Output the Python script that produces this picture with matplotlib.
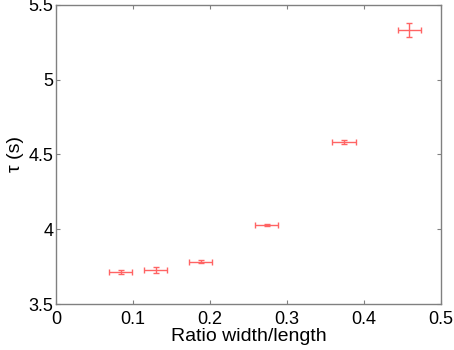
"""
tau vs ratio width/length with error bars
"""
import numpy as np
from matplotlib import pyplot as plt

ratio = [0.084, 0.1295, 0.188, 0.2735, 0.374, 0.459]
ratio_err = [0.015, 0.015, 0.015, 0.015, 0.015, 0.015]
tau = [3.712, 3.725, 3.783, 4.030, 4.585, 5.330]
tau_err = [0.013, 0.02, 0.01, 0.008, 0.013, 0.045]

plt.rcParams['font.family'] = ['Liberation Sans', 'DejaVu Sans']

fig = plt.figure(figsize=(4.54, 3.5), dpi=100)
ax = fig.add_axes([0.1233, 0.1314, 0.848, 0.855])

ax.errorbar(ratio, tau, xerr=ratio_err, yerr=tau_err, fmt='none',
            ecolor='#ff6464', elinewidth=1.0, capsize=2.5, capthick=1.0)

ax.set_xlim(0, 0.5)
ax.set_ylim(3.5, 5.5)
ax.set_xticks(np.arange(0, 0.51, 0.1))
ax.set_xticklabels(['0', '0.1', '0.2', '0.3', '0.4', '0.5'])
ax.set_yticks([3.5, 4, 4.5, 5, 5.5])
ax.set_yticklabels(['3.5', '4', '4.5', '5', '5.5'])
ax.tick_params(direction='in', top=True, right=True, length=3, width=0.8,
               color='#808080', labelsize=13)
ax.tick_params(axis='x', pad=5)
ax.tick_params(axis='y', pad=2)
for s in ax.spines.values():
    s.set_color('#808080')
    s.set_linewidth(1.0)

ax.set_xlabel('Ratio width/length', fontsize=14, labelpad=0)
ax.set_ylabel('τ (s)', fontsize=14, labelpad=3)

plt.savefig('out.png', dpi=100)
